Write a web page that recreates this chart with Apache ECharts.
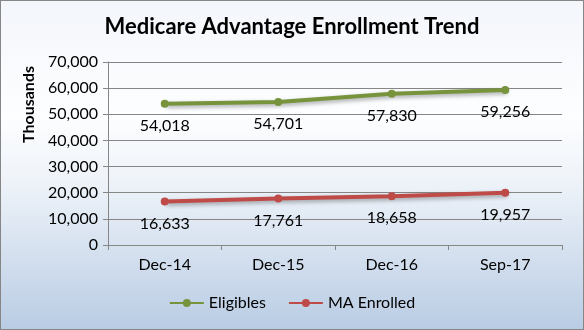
<!DOCTYPE html>
<html><head><meta charset="utf-8">
<script src="https://cdn.jsdelivr.net/npm/echarts@6/dist/echarts.min.js"></script>
<style>html,body{margin:0;padding:0;}#c{width:584px;height:330px;}</style>
</head><body><div id="c"></div>
<script>
var categories = ['Dec-14','Dec-15','Dec-16','Sep-17'];
var eligibles = [54018, 54701, 57830, 59256];
var maEnrolled = [16633, 17761, 18658, 19957];
var seriesNames = ['Eligibles','MA Enrolled'];
var font = 'Lato, "Open Sans", sans-serif';
var chart = echarts.init(document.getElementById('c'));
function fmt(v){return v.toLocaleString('en-US');}
function lineSeries(name, data, color){
  return {
    name: name, type: 'line', data: data, symbol: 'circle', symbolSize: 8,
    lineStyle: {width: 4, color: color, shadowColor: 'rgba(0,0,0,0.35)', shadowBlur: 4, shadowOffsetX: 2, shadowOffsetY: 2},
    itemStyle: {color: color},
    label: {show: true, position: 'bottom', distance: 10, color: '#000', fontSize: 16, fontFamily: font,
      formatter: function(p){return fmt(p.value);}}
  };
}
chart.setOption({
  backgroundColor: {type:'linear', x:0, y:0, x2:0, y2:1, colorStops:[
    {offset:0, color:'#f3f6fb'},{offset:0.35, color:'#fdfeff'},{offset:0.55, color:'#eef3f9'},{offset:1, color:'#b9cce4'}]},
  title: {text: 'Medicare Advantage Enrollment Trend', left: 'center', top: 11,
    textStyle: {fontSize: 22, fontWeight: 'bold', fontFamily: font, color: '#000'}},
  legend: {bottom: 14, left: 'center', itemWidth: 34, itemHeight: 10, itemGap: 22,
    textStyle: {fontSize: 16, fontFamily: font, color: '#000'}, data: seriesNames},
  grid: {left: 108, right: 22, top: 62, bottom: 85, containLabel: false},
  xAxis: {type: 'category', data: categories, boundaryGap: true,
    axisLine: {lineStyle: {color: '#868686'}}, axisTick: {show: true, length: 5, lineStyle: {color: '#868686'}},
    axisLabel: {fontSize: 16, fontFamily: font, color: '#000', margin: 12}},
  yAxis: {type: 'value', min: 0, max: 70000, interval: 10000, name: 'Thousands', nameLocation: 'middle', nameGap: 63,
    nameTextStyle: {fontSize: 16, fontWeight: 'bold', fontFamily: font, color: '#000', padding: [0, 0, 0, 98]},
    axisLine: {show: true, lineStyle: {color: '#868686'}}, axisTick: {show: true, length: 5, lineStyle: {color: '#868686'}},
    splitLine: {lineStyle: {color: '#868686'}},
    axisLabel: {fontSize: 16, fontFamily: font, color: '#000', margin: 10, formatter: function(v){return fmt(v);}}},
  series: [lineSeries(seriesNames[0], eligibles, '#77933c'), lineSeries(seriesNames[1], maEnrolled, '#be4b48')]
});
</script>
<div style="position:absolute;left:0;top:0;width:582px;height:328px;border:1px solid #868686;pointer-events:none;"></div>
</body></html>
